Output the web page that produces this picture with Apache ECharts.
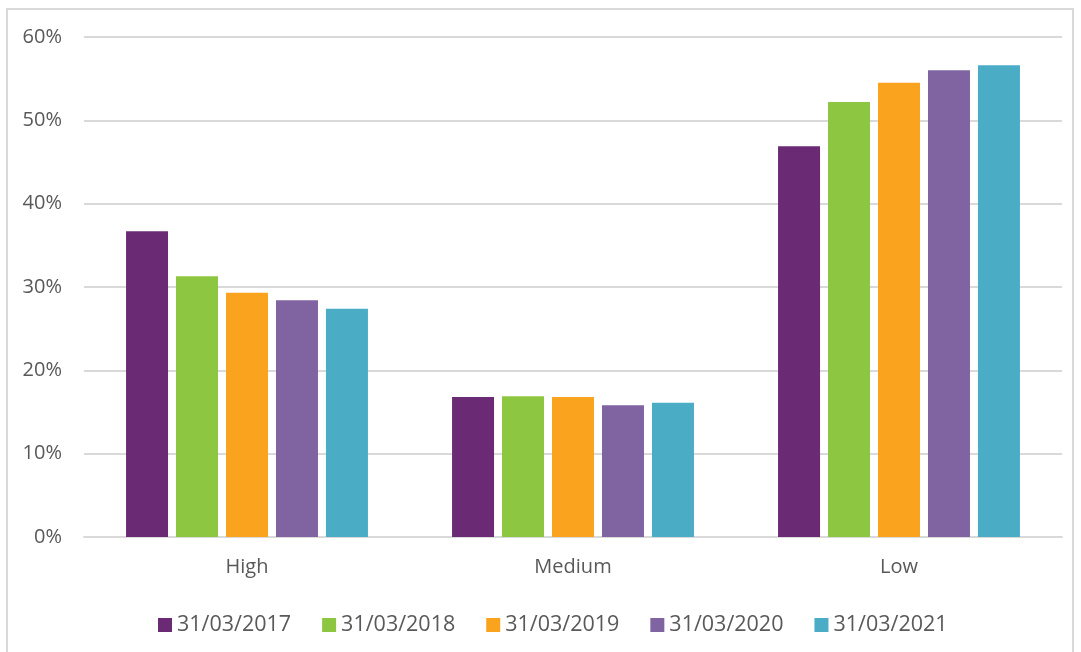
<!DOCTYPE html>
<html>
<head>
<meta charset="utf-8">
<script src="https://cdn.jsdelivr.net/npm/echarts@6/dist/echarts.min.js"></script>
<style>
  html, body { margin: 0; padding: 0; background: #fff; }
  #chart { width: 1081px; height: 652px; }
</style>
</head>
<body>
<div id="chart"></div>
<script>
    /* Chart data */
    var categories = ['High', 'Medium', 'Low'];
    var seriesNames = ['31/03/2017', '31/03/2018', '31/03/2019', '31/03/2020', '31/03/2021'];
    var values2017 = [36.7, 16.8, 46.9];
    var values2018 = [31.3, 16.9, 52.2];
    var values2019 = [29.3, 16.8, 54.5];
    var values2020 = [28.4, 15.8, 56.0];
    var values2021 = [27.4, 16.1, 56.6];
    var allValues = [values2017, values2018, values2019, values2020, values2021];
    var colors = ['#6B2A74', '#8DC641', '#F9A31F', '#7F64A1', '#4BACC6'];

    var chart = echarts.init(document.getElementById('chart'));

    var series = seriesNames.map(function (name, i) {
        return {
            name: name,
            type: 'bar',
            barWidth: 42,
            barGap: '19%',
            data: allValues[i],
            itemStyle: { color: colors[i] }
        };
    });

    chart.setOption({
        animation: false,
        color: colors,
        textStyle: { fontFamily: 'Open Sans' },
        graphic: [{
            type: 'rect',
            shape: { x: 7, y: 9, width: 1066, height: 660 },
            style: { fill: 'none', stroke: '#d9d9d9', lineWidth: 2 },
            silent: true
        }],
        grid: { left: 84, right: 19, top: 37, bottom: 115 },
        xAxis: {
            type: 'category',
            data: categories,
            axisTick: { show: false },
            axisLine: { lineStyle: { color: '#d9d9d9', width: 2 } },
            axisLabel: { color: '#595959', fontSize: 20, margin: 20 }
        },
        yAxis: {
            type: 'value',
            min: 0,
            max: 60,
            interval: 10,
            axisLine: { show: false },
            axisTick: { show: false },
            splitLine: { lineStyle: { color: '#d9d9d9', width: 2 } },
            axisLabel: {
                color: '#595959',
                fontSize: 20,
                margin: 22,
                formatter: '{value}%'
            }
        },
        legend: {
            bottom: 11,
            left: 153,
            icon: 'rect',
            itemWidth: 14,
            itemHeight: 14,
            itemGap: 31,
            textStyle: { color: '#595959', fontSize: 21.5 },
            data: seriesNames
        },
        series: series
    });
</script>
</body>
</html>
